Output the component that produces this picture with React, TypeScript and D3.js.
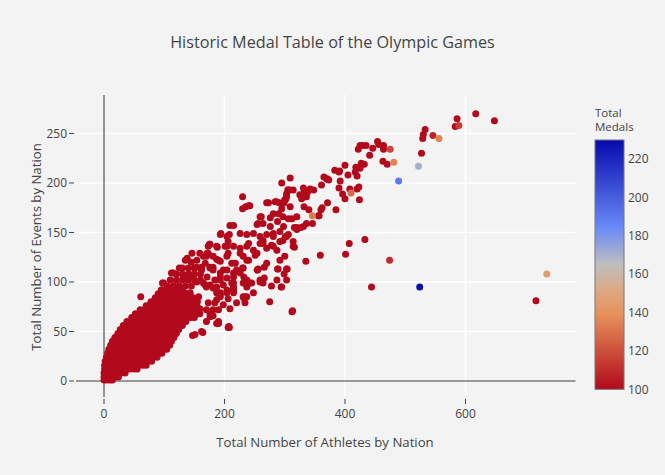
import React from "react";
import * as d3 from "d3";

const W = 665;
const H = 475;
const PLOT = { left: 76, right: 575.5, top: 95, bottom: 397 };
const X_DOMAIN = [-46.5, 782.6];
const Y_DOMAIN = [-16.2, 288.9];

const xTicks = [0, 200, 400, 600];
const yTicks = [0, 50, 100, 150, 200, 250];
const cbTicks = [100, 120, 140, 160, 180, 200, 220];
const cbRange = [100, 230];

const titleText = "Historic Medal Table of the Olympic Games";
const xTitle = "Total Number of Athletes by Nation";
const yTitle = "Total Number of Events by Nation";
const cbTitle = ["Total", "Medals"];

// Dense cloud of small nations (all under 100 medals): events level -> athletes values
const denseEvents = [1, 4, 8, 12, 16, 20, 24, 28, 32, 36, 40, 44, 48, 52, 56, 60, 64, 68, 72, 76, 80, 84, 88, 92];
const denseAthletes = [
  [0, 5, 10, 14],
  [0, 6, 12, 18, 24],
  [0, 7, 14, 21, 28, 35],
  [1, 8, 15, 22, 29, 36, 43, 50, 55],
  [1, 8, 15, 22, 29, 36, 43, 50, 57, 64, 70],
  [2, 9, 16, 23, 30, 37, 44, 51, 58, 65, 72, 79],
  [4, 11, 18, 25, 32, 39, 46, 53, 60, 67, 74, 81, 88],
  [6, 13, 20, 27, 34, 41, 48, 55, 62, 69, 76, 83, 90, 96],
  [8, 15, 22, 29, 36, 43, 50, 57, 64, 71, 78, 85, 92, 99, 104],
  [11, 18, 25, 32, 39, 46, 53, 60, 67, 74, 81, 88, 95, 102, 109],
  [14, 21, 28, 35, 42, 49, 56, 63, 70, 77, 84, 91, 98, 105, 112],
  [18, 25, 32, 39, 46, 53, 60, 67, 74, 81, 88, 95, 102, 109, 116],
  [23, 30, 37, 44, 51, 58, 65, 72, 79, 86, 93, 100, 107, 114, 120],
  [27, 34, 41, 48, 55, 62, 69, 76, 83, 90, 97, 104, 111, 118, 124],
  [32, 39, 46, 53, 60, 67, 74, 81, 88, 95, 102, 109, 116, 123, 130],
  [38, 45, 52, 59, 66, 73, 80, 87, 94, 101, 108, 115, 122, 129, 136],
  [46, 53, 60, 67, 74, 81, 88, 95, 102, 109, 116, 123, 130, 137, 144, 150],
  [52, 59, 66, 73, 80, 87, 94, 101, 108, 115, 122, 129, 136, 143, 150, 156],
  [60, 67, 74, 81, 88, 95, 102, 109, 116, 123, 130, 137, 144, 151, 158],
  [70, 77, 84, 91, 98, 105, 112, 119, 126, 133, 140, 147, 154],
  [78, 85, 92, 99, 106, 113, 120, 127, 134, 141, 148, 155],
  [85, 92, 99, 106, 113, 120, 127, 134, 141, 148],
  [90, 97, 104, 111, 118, 125, 132, 139],
  [95, 102, 109, 116, 123, 130],
];

// Scattered nations under 100 medals: [athletes, events]
const spreadNations: [number, number][] = [
  [617, 270], [648, 263], [586, 265], [583, 257], [533, 254], [530, 249], [529, 245], [527, 230],
  [470, 219], [463, 222], [464, 234], [464, 238], [456, 239], [454, 242], [446, 235], [441, 228],
  [435, 238], [429, 238], [422, 234], [425, 238], [432, 219], [425, 215], [418, 216], [417, 211],
  [420, 207], [427, 220], [423, 196], [420, 194], [424, 183], [408, 194], [400, 218], [405, 208],
  [392, 202], [390, 195], [396, 189], [400, 184], [390, 211], [383, 213], [371, 204], [365, 206],
  [361, 198], [385, 173], [371, 180], [362, 175], [356, 167], [346, 159], [336, 159], [332, 176],
  [340, 173], [327, 155], [316, 155], [320, 166], [309, 205], [295, 200], [303, 189], [308, 193],
  [300, 183], [309, 176], [312, 164], [303, 146], [297, 142], [316, 135], [300, 126], [303, 113],
  [299, 108], [295, 95], [312, 70], [335, 121], [359, 127], [401, 128], [407, 139], [433, 143],
  [444, 95], [717, 81], [391, 212], [370, 204], [373, 203], [360, 173], [357, 167], [325, 188],
  [334, 186], [342, 194], [348, 193], [331, 195], [338, 191], [328, 184], [306, 193], [295, 174],
  [306, 148], [301, 146],
  [230, 186], [230, 174], [242, 177], [235, 176], [305, 193], [302, 184], [299, 180], [291, 180],
  [286, 181], [273, 180], [281, 169], [290, 169], [297, 166], [261, 166], [256, 159], [264, 159],
  [276, 156], [288, 161], [306, 164], [320, 155], [331, 156], [331, 189], [336, 186], [215, 157],
  [208, 148], [226, 149], [237, 148], [248, 149], [259, 146], [270, 148], [281, 149], [292, 151],
  [314, 141], [176, 138], [187, 136], [201, 136], [206, 129], [226, 134], [231, 126], [240, 122],
  [251, 127], [259, 139], [270, 134], [278, 137], [287, 132], [231, 114], [256, 113], [266, 115],
  [289, 113], [304, 113], [259, 102], [278, 96], [294, 95], [231, 85], [215, 105], [204, 112],
  [193, 121], [181, 126], [242, 99], [218, 119],
  [275, 80], [232, 84], [288, 113], [255, 112], [266, 104], [259, 100], [245, 99], [237, 95],
  [234, 85], [232, 105], [230, 114], [237, 122], [254, 129], [281, 136], [237, 136], [264, 139],
  [292, 141],
  [206, 141], [204, 136], [175, 138], [188, 135], [173, 129], [187, 123], [204, 126], [212, 119],
  [220, 112], [138, 124], [154, 122], [162, 115], [176, 114], [193, 109], [204, 104], [215, 99],
  [112, 109], [99, 99], [132, 104], [145, 107], [154, 100], [168, 97], [181, 94], [193, 89],
  [206, 83], [214, 92], [187, 82], [173, 79], [96, 92], [110, 94], [121, 95], [132, 90],
  [143, 89], [157, 85], [85, 80], [76, 77], [170, 72], [190, 72], [181, 66], [198, 77],
  [209, 73], [220, 79], [207, 55], [190, 60], [176, 65], [61, 85],
  [165, 126], [171, 129], [168, 119], [176, 115], [181, 112], [162, 112], [171, 105], [184, 102],
  [193, 105], [176, 97], [187, 95], [198, 97], [165, 99], [204, 92], [193, 87], [215, 92],
  [212, 99], [198, 112], [190, 122], [173, 136],
  [97, 99], [115, 109], [135, 122], [146, 129], [194, 149], [240, 177], [147, 46], [164, 49],
  [190, 58], [208, 54], [234, 79], [313, 71], [151, 47], [162, 50], [187, 58], [259, 166],
  [254, 158], [276, 165], [270, 180], [284, 181], [298, 180], [303, 186], [314, 193], [209, 157],
  [193, 148], [204, 146], [215, 136], [226, 129], [240, 139], [248, 132], [264, 142], [281, 146],
  [298, 156], [320, 153], [314, 136], [292, 122], [270, 119], [254, 112], [237, 102], [215, 109],
  [193, 102], [181, 115], [170, 126], [159, 129], [154, 115], [137, 105], [170, 95], [187, 89],
  [215, 89], [248, 89], [264, 99], [287, 102], [303, 102], [181, 72], [159, 68], [137, 72],
  [170, 60], [176, 68], [159, 73], [184, 79], [193, 85], [204, 89], [215, 95], [231, 99],
  [206, 54], [237, 85], [226, 109],
  [105, 96], [115, 96], [125, 96], [135, 96], [145, 96], [110, 102], [120, 102], [130, 102],
  [140, 102], [150, 102], [160, 102], [120, 108], [130, 108], [140, 108], [150, 108], [160, 108],
  [130, 114], [140, 114], [150, 114], [145, 120], [125, 114],
];

// Nations with the highest medal counts: [athletes, events, medals]
const topNations: [number, number, number][] = [
  [589, 258, 115], [546, 248, 108], [474, 122, 110], [475, 234, 118],
  [410, 190, 128], [346, 167, 132], [481, 221, 135], [556, 245, 135],
  [735, 108, 145], [522, 217, 170], [489, 202, 190], [524, 95, 228],
];

const FONT = '"Open Sans", verdana, arial, sans-serif';
const BG = "#f3f3f3";
const TXT = "#444";

const t = (v: number) => (v - cbRange[0]) / (cbRange[1] - cbRange[0]);
const stopT = [0, 0.3, 0.4, 0.5, 0.65, 1];
const stopC = ["rgb(178,10,28)", "rgb(230,145,90)", "rgb(220,170,132)", "rgb(190,190,190)", "rgb(106,137,247)", "rgb(5,10,172)"];
const colorT = d3.scaleLinear<string>().domain(stopT).range(stopC).interpolate(d3.interpolateRgb).clamp(true);
const color = (m: number) => colorT(t(m));

export default function App() {
  const x = d3.scaleLinear().domain(X_DOMAIN).range([PLOT.left, PLOT.right]);
  const y = d3.scaleLinear().domain(Y_DOMAIN).range([PLOT.bottom, PLOT.top]);
  const cb = d3.scaleLinear().domain(cbRange).range([389.3, 140]);
  const R = 3.5;

  const dense: [number, number][] = [];
  denseEvents.forEach((ev, i) => denseAthletes[i].forEach((a) => dense.push([a, ev])));

  return (
    <svg width={W} height={H} style={{ position: "absolute", left: 0, top: 0, display: "block" }} fontFamily={FONT}>
      <defs>
        <linearGradient id="cbgrad" x1="0" y1="1" x2="0" y2="0">
          {stopT.map((s, i) => (
            <stop key={i} offset={s} stopColor={stopC[i]} />
          ))}
        </linearGradient>
        <clipPath id="plotclip">
          <rect x={PLOT.left} y={PLOT.top} width={PLOT.right - PLOT.left} height={PLOT.bottom - PLOT.top} />
        </clipPath>
      </defs>
      <rect x={0} y={0} width={W} height={H} fill={BG} />

      {/* grid */}
      {xTicks.filter((v) => v !== 0).map((v) => (
        <line key={"gx" + v} x1={x(v)} x2={x(v)} y1={PLOT.top} y2={PLOT.bottom} stroke="#fff" strokeWidth={1.5} />
      ))}
      {yTicks.filter((v) => v !== 0).map((v) => (
        <line key={"gy" + v} x1={PLOT.left} x2={PLOT.right} y1={y(v)} y2={y(v)} stroke="#fff" strokeWidth={1.5} />
      ))}
      {/* zero lines */}
      <line x1={x(0)} x2={x(0)} y1={PLOT.top} y2={PLOT.bottom} stroke="#7a7a7a" strokeWidth={1.6} />
      <line x1={PLOT.left} x2={PLOT.right} y1={y(0)} y2={y(0)} stroke="#7a7a7a" strokeWidth={1.6} />

      {/* ticks */}
      {xTicks.map((v) => (
        <g key={"tx" + v}>
          <line x1={x(v)} x2={x(v)} y1={PLOT.bottom + 2} y2={PLOT.bottom + 7} stroke={TXT} strokeWidth={1} />
          <text x={x(v)} y={418} textAnchor="middle" fontSize={12} fill={TXT}>{v}</text>
        </g>
      ))}
      {yTicks.map((v) => (
        <g key={"ty" + v}>
          <line x1={PLOT.left - 7} x2={PLOT.left - 2} y1={y(v)} y2={y(v)} stroke={TXT} strokeWidth={1} />
          <text x={PLOT.left - 9} y={y(v)} dy="0.35em" textAnchor="end" fontSize={12} fill={TXT}>{v}</text>
        </g>
      ))}

      {/* markers */}
      <g clipPath="url(#plotclip)">
        {dense.map((p, i) => (
          <circle key={"d" + i} cx={x(p[0])} cy={y(p[1])} r={R} fill={color(100)} />
        ))}
        {spreadNations.map((p, i) => (
          <circle key={"s" + i} cx={x(p[0])} cy={y(p[1])} r={R} fill={color(100)} />
        ))}
        {topNations.map((p, i) => (
          <circle key={"t" + i} cx={x(p[0])} cy={y(p[1])} r={R} fill={color(p[2])} />
        ))}
      </g>

      {/* titles */}
      <text x={332.5} y={48} textAnchor="middle" fontSize={16.2} fill={TXT}>{titleText}</text>
      <text x={325} y={447} textAnchor="middle" fontSize={13.2} fill={TXT}>{xTitle}</text>
      <text transform={`translate(41,247) rotate(-90)`} textAnchor="middle" fontSize={13.2} fill={TXT}>{yTitle}</text>

      {/* colorbar */}
      <text x={595} y={116.5} fontSize={11.5} fill={TXT}>{cbTitle[0]}</text>
      <text x={595} y={130.5} fontSize={11.5} fill={TXT}>{cbTitle[1]}</text>
      <rect x={595} y={140} width={29} height={249.3} fill="url(#cbgrad)" stroke="#777" strokeWidth={1} />
      {cbTicks.map((v) => (
        <text key={"cb" + v} x={628} y={cb(v)} dy="0.35em" fontSize={12} fill={TXT}>{v}</text>
      ))}
    </svg>
  );
}
